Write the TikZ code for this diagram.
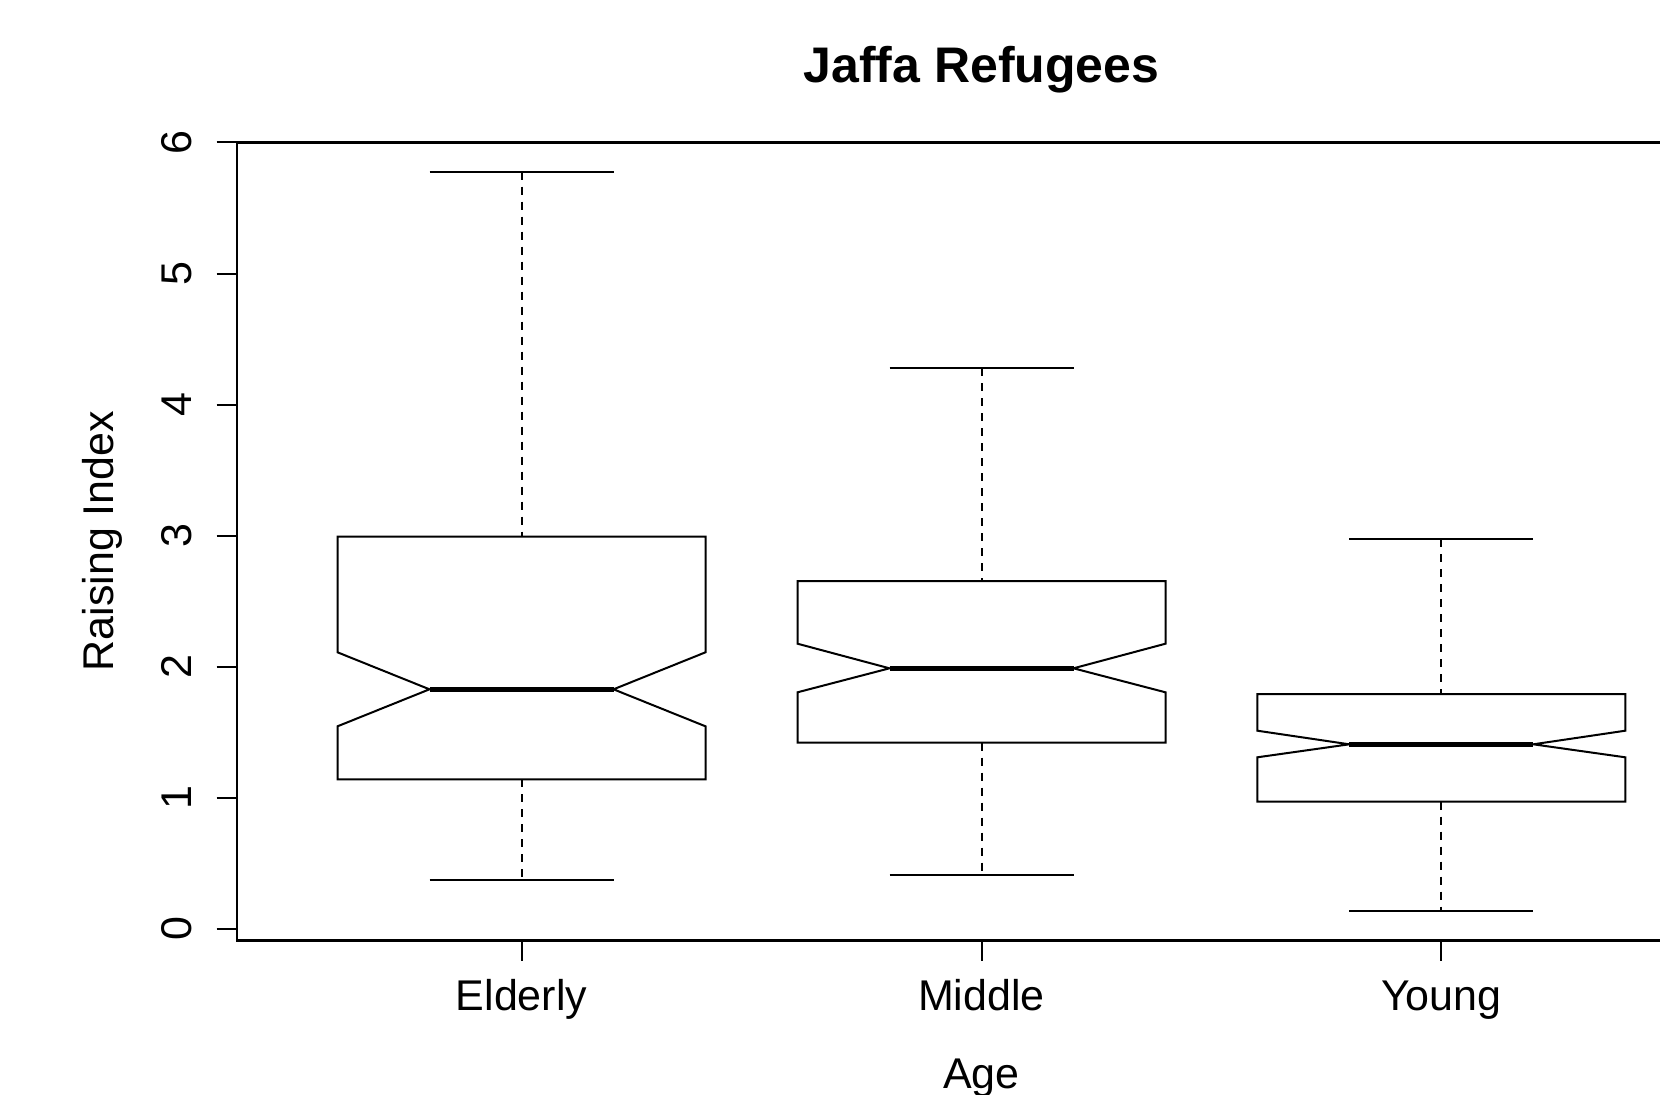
\documentclass[tikz,border=0pt]{standalone}
\usepackage{fontspec}
\setmainfont{Liberation Sans}
\begin{document}
\begin{tikzpicture}[x=1pt,y=-1pt,
  thinline/.style={line width=2pt, line join=miter},
  frameline/.style={line width=2.4pt},
  whisk/.style={line width=2pt, dash pattern=on 8pt off 7pt},
  medline/.style={line width=5.5pt},
  lab/.style={anchor=base, inner sep=0pt, font=\fontsize{43}{50}\selectfont},
  ttl/.style={anchor=base, inner sep=0pt, font=\fontsize{50}{58}\selectfont\bfseries}]
\useasboundingbox (0,0) rectangle (1660,1095);
\fill[white] (0,0) rectangle (1660,1095);
% frame
\coordinate (tl) at (236.7,142.3);
\coordinate (bl) at (236.7,940.5);
\coordinate (tr) at (1660,142.3);
\coordinate (br) at (1660,940.5);
\draw[frameline] (tr) -- (tl) -- (bl) -- (br);
% y ticks and labels
\foreach \k in {0,...,6}{
  \pgfmathsetmacro{\yy}{929-131.1*\k}
  \draw[thinline] (216.7,\yy) -- (236.7,\yy);
  \node[lab, rotate=90] (yl\k) at (191,\yy) {\k};
}
\node[lab, rotate=90] (ylab) at (113,541) {Raising Index};
% boxes
\foreach \nm/\c/\ct/\bt/\nt/\md/\nb/\bb/\cb in {
  Elderly/521.5/171.5/536.7/652.3/689.3/726.3/779.3/880,
  Middle/981.5/368.3/581/643.7/668.3/692.3/742.5/874.5,
  Young/1441.3/539.3/694/730.7/744.3/757.3/801.7/911}{
  \draw[whisk] (\c,\ct) -- (\c,\bt);
  \draw[whisk] (\c,\bb) -- (\c,\cb);
  \draw[thinline] (\c-92,\ct) -- (\c+92,\ct);
  \draw[thinline] (\c-92,\cb) -- (\c+92,\cb);
  \draw[thinline, fill=white] (\c-184,\bt) -- (\c-184,\nt) -- (\c-92,\md) -- (\c-184,\nb)
     -- (\c-184,\bb) -- (\c+184,\bb) -- (\c+184,\nb) -- (\c+92,\md) -- (\c+184,\nt)
     -- (\c+184,\bt) -- cycle;
  \draw[medline] (\c-92,\md) -- (\c+92,\md);
  \draw[thinline] (\c,940.5) -- (\c,961);
  \node[lab] (x\nm) at (\c,1010) {\nm};
}
\node[lab] (xlab) at (981.5,1088) {Age};
\node[ttl] (title) at (981.5,82) {Jaffa Refugees};
\end{tikzpicture}
\end{document}
